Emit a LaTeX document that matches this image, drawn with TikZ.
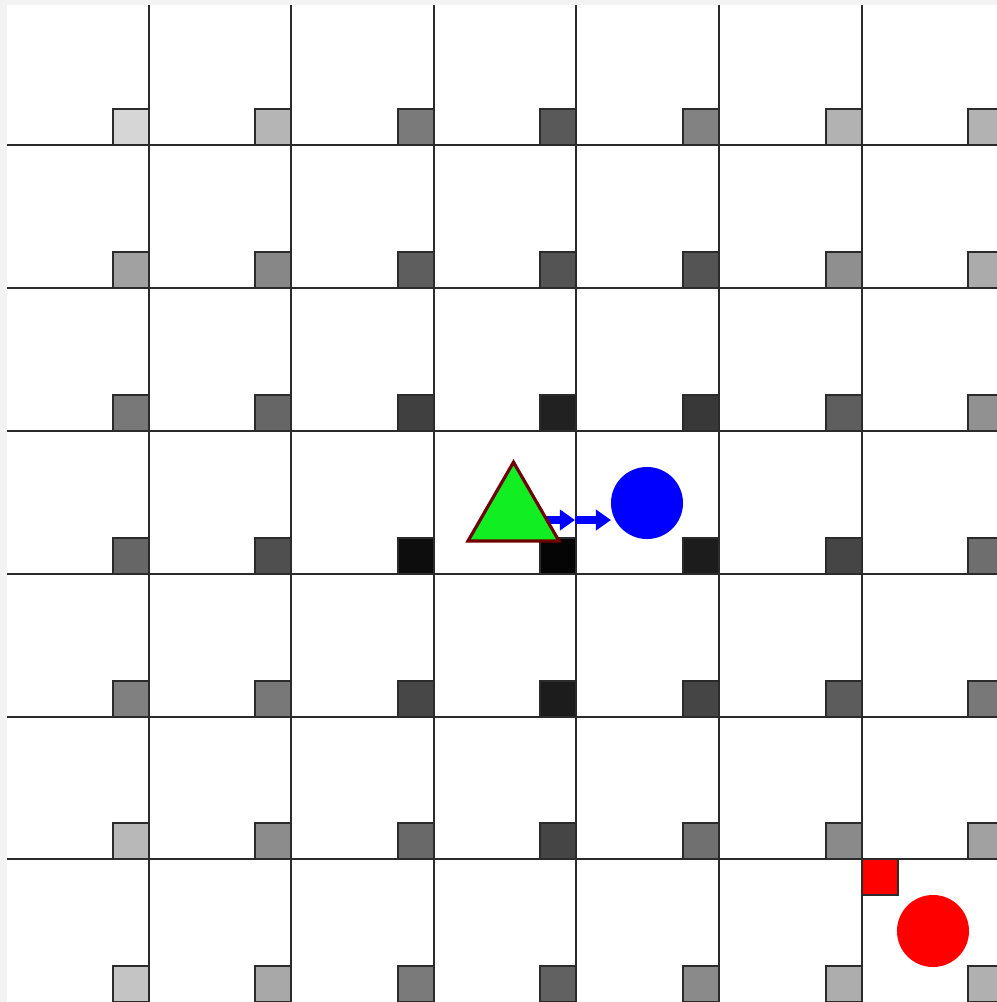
\documentclass[tikz,border=0pt]{standalone}
\usepackage{xcolor}
\usepackage{tikz}
\usetikzlibrary{positioning, arrows.meta, calc, shapes.geometric}
\definecolor{gridLn}{HTML}{2b2b2b}
\definecolor{edgeBg}{HTML}{f3f3f3}
\definecolor{agentG}{HTML}{11ee22}
\definecolor{agentB}{HTML}{700000}
\definecolor{goalR}{HTML}{ff0000}
\definecolor{moveB}{HTML}{0000ff}
\newcommand{\colX}{149,291,434,576,719,862,1004}
\newcommand{\rowY}{145,288,431,574,717,859,1002}

\begin{document}
\begin{tikzpicture}[x=0.01cm, y=-0.01cm, gridline/.style={draw=gridLn, line width=0.6pt}, tile/.style={draw=gridLn, line width=0.6pt},
  agent/.style={regular polygon, regular polygon sides=3, fill=agentG, draw=agentB, line width=0.9pt, minimum size=1.05cm, inner sep=0pt},
  target/.style={circle, minimum size=0.72cm, inner sep=0pt, outer sep=0pt}, move/.style={draw=moveB, line width=2.3pt, -{Triangle[length=0.15cm, width=0.2cm]}}]
\clip (0,0) rectangle (997,1002);
\fill[edgeBg] (0,0) rectangle (997,1002); \fill[white] (7,5) rectangle (997,1002);
\foreach \x in {149,291,434,576,719,862} {\draw[gridline] (\x,5) -- (\x,1002);}
\foreach \y in {145,288,431,574,717,859} {\draw[gridline] (7,\y) -- (997,\y);}
% shaded tiles, one row at a time
\foreach \y/\shades in {145/{16,29,52,65,49,30,30}, 288/{37,47,63,67,67,44,33}, 431/{53,60,75,87,78,63,43}, 574/{60,69,95,98,89,73,57}, 717/{50,53,72,89,73,64,53}, 859/{28,45,59,73,56,46,37}, 1002/{23,34,52,62,46,32,31}} {
  \foreach \s [count=\c] in \shades {\pgfmathsetmacro{\x}{{\colX}[\c-1]} \draw[tile, fill=black!\s] (\x-36,\y-36) rectangle (\x,\y);}
}
\draw[tile, fill=goalR, line width=0.4pt] (862,859) rectangle ++(36,36);
\node[target, fill=goalR] (goal) at (933,931) {};
\node[target, fill=moveB] (next) at (647,503) {};
\coordinate (hop) at (575,520);
\draw[move] (hop -| 540,0) -- (hop); \draw[move] (hop) -- (hop -| next.west);
\node[agent] (tri) at (513.5,514.7) {};
\end{tikzpicture}
\end{document}
